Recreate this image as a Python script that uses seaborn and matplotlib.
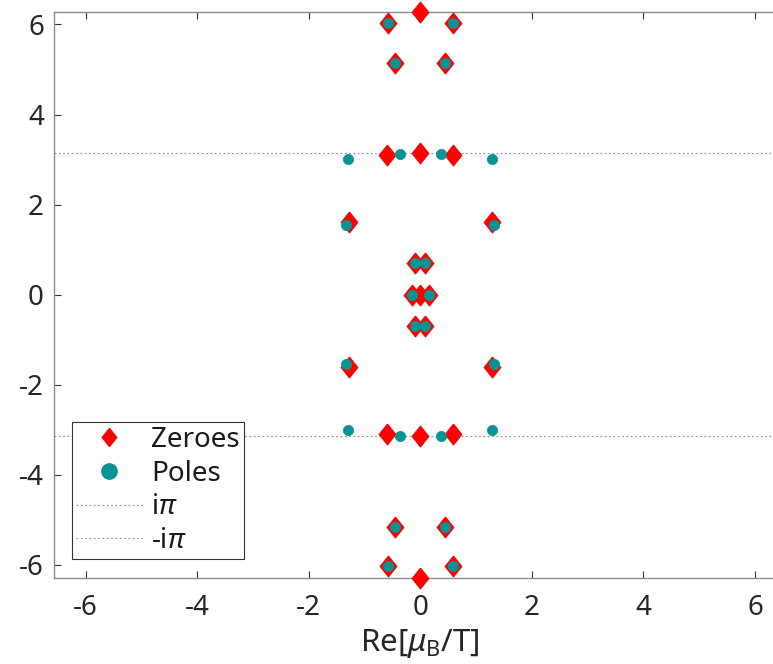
import numpy as np
import pandas as pd
import seaborn as sns
import matplotlib.pyplot as plt
from matplotlib.lines import Line2D

# Zeroes and poles in the complex mu_B/T plane
zero_re = [0.00, -0.58, 0.58, -0.45, 0.45, -0.59, 0.00, 0.59, -1.28, 1.28,
           -0.09, 0.09, -0.15, 0.00, 0.15, -0.09, 0.09, -1.28, 1.28,
           -0.59, 0.00, 0.59, -0.45, 0.45, -0.58, 0.58, 0.00]
zero_im = [6.2832, 6.03, 6.03, 5.15, 5.15, 3.10, 3.14, 3.10, 1.61, 1.61,
           0.70, 0.70, 0.00, 0.00, 0.00, -0.70, -0.70, -1.61, -1.61,
           -3.10, -3.14, -3.10, -5.15, -5.15, -6.03, -6.03, -6.2832]

pole_re = [-0.58, 0.58, -0.45, 0.45, -1.29, -0.37, 0.37, 1.29, -1.33, 1.33,
           -0.09, 0.09, -0.15, 0.15, -0.09, 0.09, -1.33, 1.33,
           -1.29, -0.37, 0.37, 1.29, -0.45, 0.45, -0.58, 0.58]
pole_im = [6.03, 6.03, 5.15, 5.15, 3.01, 3.13, 3.13, 3.01, 1.54, 1.54,
           0.70, 0.70, 0.00, 0.00, -0.70, -0.70, -1.54, -1.54,
           -3.01, -3.13, -3.13, -3.01, -5.15, -5.15, -6.03, -6.03]

ref_lines = [np.pi, -np.pi]
ref_labels = [r"i$\pi$", r"-i$\pi$"]
ticks = [-6, -4, -2, 0, 2, 4, 6]

sns.set_theme(style="white")
plt.rcParams["font.family"] = ["Noto Sans", "DejaVu Sans"]
plt.rcParams["mathtext.fontset"] = "custom"
plt.rcParams["mathtext.rm"] = "Noto Sans"
plt.rcParams["mathtext.it"] = "Noto Sans:italic"
plt.rcParams["axes.unicode_minus"] = False

RED = "#ff0000"
TEAL = "#089494"
DOT = "#8c8c8c"
diamond = [(0, 1), (0.8, 0), (0, -1), (-0.8, 0), (0, 1)]

fig = plt.figure(figsize=(7.73, 6.64), dpi=100)
ax = fig.add_axes([0.0702, 0.130, 0.947, 0.8524])

zeros = pd.DataFrame({"re": zero_re, "im": zero_im})
poles = pd.DataFrame({"re": pole_re, "im": pole_im})

for y in ref_lines:
    ax.axhline(y, color=DOT, lw=0.8, ls=(0, (1.5, 2.4)), zorder=1)

sns.scatterplot(data=zeros, x="re", y="im", marker=diamond, s=225,
                color=RED, edgecolor=RED, linewidth=0.8, legend=False,
                ax=ax, zorder=3, clip_on=False)
sns.scatterplot(data=poles, x="re", y="im", marker="o", s=55,
                color=TEAL, edgecolor=TEAL, linewidth=0.5, legend=False,
                ax=ax, zorder=4, clip_on=False)

ax.set_xlim(-6.56, 6.56)
ax.set_ylim(-2 * np.pi, 2 * np.pi)
ax.set_xticks(ticks)
ax.set_yticks(ticks)
ax.set_xlabel(r"Re[$\mu_{\mathrm{B}}$/T]", fontsize=22.5, color="#262626", labelpad=3)
ax.set_ylabel("")

for sp in ax.spines.values():
    sp.set_color(DOT)
    sp.set_linewidth(1.0)

ax.tick_params(direction="in", length=5, width=0.8, color="#333333",
               labelsize=20, labelcolor="#262626", top=True, right=True,
               bottom=True, left=True)
ax.tick_params(axis="x", pad=12)
ax.tick_params(axis="y", pad=7.5)

handles = [
    Line2D([], [], ls="none", marker=diamond, ms=13, color=RED, mec=RED),
    Line2D([], [], ls="none", marker="o", ms=11, color=TEAL, mec=TEAL),
    Line2D([], [], color=DOT, lw=0.8, ls=(0, (1.5, 2.4))),
    Line2D([], [], color=DOT, lw=0.8, ls=(0, (1.5, 2.4))),
]
labels = ["Zeroes", "Poles"] + ref_labels
leg = ax.legend(handles, labels, loc="lower left", bbox_to_anchor=(0.0242, 0.033),
                borderaxespad=0, fontsize=20, frameon=True, fancybox=False,
                edgecolor="#333333", framealpha=1, handlelength=2.4,
                handletextpad=0.3, borderpad=0.15, labelspacing=0.2)
leg.get_frame().set_linewidth(0.8)
for t in leg.get_texts():
    t.set_color("#1a1a1a")

fig.savefig("out.png", dpi=100)
